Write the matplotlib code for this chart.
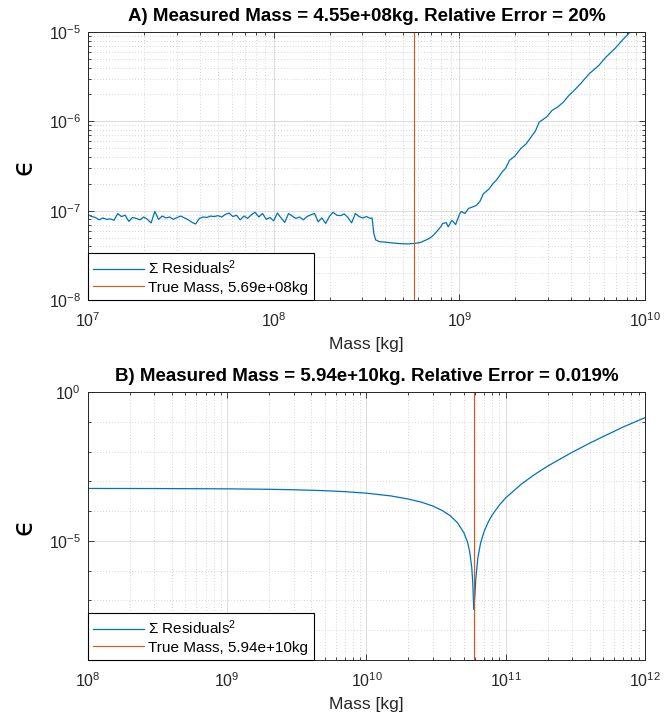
import numpy as np
import matplotlib.pyplot as plt
from matplotlib.ticker import FixedLocator, NullFormatter, LogFormatterSciNotation

# -----------------------------
# Panel A: noisy fit, 1e7 .. 1e10 kg
# -----------------------------
log_mass_a = [
    7.00, 7.02, 7.04, 7.06, 7.08, 7.10, 7.12, 7.14, 7.16, 7.18,
    7.20, 7.22, 7.24, 7.26, 7.28, 7.30, 7.32, 7.34, 7.36, 7.38,
    7.40, 7.42, 7.44, 7.46, 7.48, 7.50, 7.52, 7.54, 7.56, 7.58,
    7.60, 7.62, 7.64, 7.66, 7.68, 7.70, 7.72, 7.74, 7.76, 7.78,
    7.80, 7.82, 7.84, 7.86, 7.88, 7.90, 7.92, 7.94, 7.96, 7.98,
    8.00, 8.02, 8.04, 8.06, 8.08, 8.10, 8.12, 8.14, 8.16, 8.18,
    8.20, 8.22, 8.24, 8.26, 8.28, 8.30, 8.32, 8.34, 8.36, 8.38,
    8.40, 8.42, 8.44, 8.46, 8.48, 8.50, 8.52, 8.53, 8.54, 8.55,
    8.57, 8.60, 8.64, 8.68, 8.72, 8.76, 8.79, 8.82, 8.84, 8.86,
    8.88, 8.90, 8.91, 8.93, 8.94, 8.96, 8.98, 9.00, 9.01, 9.03,
    9.05, 9.07, 9.09, 9.11, 9.13, 9.16, 9.18, 9.20, 9.23, 9.25,
    9.27, 9.30, 9.33, 9.36, 9.38, 9.41, 9.43, 9.47, 9.50, 9.53,
    9.56, 9.59, 9.61, 9.65, 9.70, 9.75, 9.79, 9.84, 9.88, 9.92,
    10.00,
]
# residual sum in units of 1e-8
eps_a_1e8 = [
    9.0, 8.6, 8.4, 7.9, 8.3, 8.0, 8.1, 7.8, 9.3, 8.6,
    8.9, 7.6, 8.4, 8.2, 7.9, 8.5, 8.0, 7.3, 9.8, 8.0,
    8.7, 8.3, 8.5, 8.0, 8.4, 8.7, 8.3, 7.9, 7.4, 7.1,
    8.2, 8.5, 8.4, 8.7, 8.6, 8.8, 8.5, 9.1, 9.4, 8.6,
    8.9, 7.9, 8.7, 8.2, 9.0, 9.6, 8.5, 9.3, 8.0, 8.4,
    7.7, 9.4, 8.3, 7.4, 9.3, 8.7, 8.2, 8.5, 7.9, 8.6,
    9.0, 9.3, 7.5, 8.3, 7.2, 8.6, 9.6, 8.9, 8.8, 9.2,
    8.4, 7.3, 9.3, 8.6, 8.3, 8.6, 8.2, 8.3, 5.5, 4.7,
    4.5, 4.45, 4.35, 4.28, 4.25, 4.3, 4.4, 4.7, 4.9, 5.3,
    5.9, 6.6, 7.2, 7.35, 6.6, 7.8, 7.0, 9.0, 9.8, 9.3,
    10.6, 11.0, 11.4, 12.6, 15.5, 17.5, 20.0, 22.0, 27.0, 30.0,
    36.6, 41.0, 49.4, 56.0, 64.0, 78.0, 98.0, 112.0, 133.0, 145.0,
    164.0, 195.0, 213.0, 260.0, 342.0, 420.0, 525.0, 660.0, 820.0, 1000.0,
    1460.0,
]
true_mass_a = 5.69e8
title_a = "A) Measured Mass = 4.55e+08kg. Relative Error = 20%"

# -----------------------------
# Panel B: clean fit, 1e8 .. 1e12 kg
# -----------------------------
mass_b = [
    1e8, 3e8, 1e9, 2e9, 3e9, 5e9, 7e9, 1e10, 1.5e10, 2e10,
    2.5e10, 3e10, 3.5e10, 4e10, 4.5e10, 5e10, 5.3e10, 5.5e10, 5.7e10, 5.8e10,
    5.89e10, 6.0e10, 6.1e10, 6.3e10, 6.6e10, 7e10, 7.5e10, 8e10, 9e10, 1e11,
    1.3e11, 1.6e11, 2e11, 3e11, 4e11, 5e11, 7e11, 1e12,
]
eps_b = [
    5.78e-4, 5.74e-4, 5.61e-4, 5.42e-4, 5.23e-4, 4.87e-4, 4.51e-4, 4.01e-4, 3.24e-4, 2.55e-4,
    1.98e-4, 1.48e-4, 1.05e-4, 7.0e-5, 4.1e-5, 1.9e-5, 9.5e-6, 4.6e-6, 1.3e-6, 4.0e-7,
    5.0e-8, 1.4e-7, 5.5e-7, 2.6e-6, 8.5e-6, 2.1e-5, 4.4e-5, 7.5e-5, 1.6e-4, 2.8e-4,
    8.2e-4, 1.66e-3, 3.25e-3, 9.5e-3, 1.91e-2, 3.19e-2, 6.75e-2, 1.38e-1,
]
true_mass_b = 5.94e10
title_b = "B) Measured Mass = 5.94e+10kg. Relative Error = 0.019%"

BLUE = '#0072BD'
ORANGE = '#D95319'
AX_COLOR = '#262626'

plt.rcParams['font.family'] = ['Liberation Sans', 'DejaVu Sans']
plt.rcParams['mathtext.fontset'] = 'custom'
plt.rcParams['mathtext.rm'] = 'Liberation Sans'
plt.rcParams['mathtext.it'] = 'Liberation Sans:italic'
plt.rcParams['mathtext.bf'] = 'Liberation Sans:bold'


def decades(lo, hi):
    return [10.0 ** k for k in range(lo, hi + 1)]


def sub_decades(lo, hi):
    return [m * 10.0 ** k for k in range(lo, hi) for m in range(2, 10)]


def style_axes(ax, xdec, ymajor, yminor, ylim):
    ax.set_xscale('log')
    ax.set_yscale('log')
    ax.set_xlim(10.0 ** xdec[0], 10.0 ** xdec[1])
    ax.set_ylim(*ylim)

    ax.xaxis.set_major_locator(FixedLocator(decades(*xdec)))
    ax.xaxis.set_minor_locator(FixedLocator(sub_decades(*xdec)))
    ax.yaxis.set_major_locator(FixedLocator(ymajor))
    ax.yaxis.set_minor_locator(FixedLocator(yminor))
    ax.xaxis.set_major_formatter(LogFormatterSciNotation())
    ax.yaxis.set_major_formatter(LogFormatterSciNotation())
    ax.xaxis.set_minor_formatter(NullFormatter())
    ax.yaxis.set_minor_formatter(NullFormatter())

    ax.tick_params(which='both', direction='in', top=True, right=True,
                   color=AX_COLOR, width=0.6, labelsize=11.5, labelcolor=AX_COLOR)
    ax.tick_params(which='major', length=4.5)
    ax.tick_params(which='minor', length=2.5)
    ax.tick_params(axis='x', pad=8)
    ax.tick_params(axis='y', pad=5)

    ax.grid(True, which='major', color='#dcdcdc', linewidth=0.7, linestyle='-')
    ax.grid(True, which='minor', color='#c8c8c8', linewidth=0.6, linestyle=(0, (1, 2.5)))
    ax.set_axisbelow(True)

    for sp in ax.spines.values():
        sp.set_color(AX_COLOR)
        sp.set_linewidth(0.7)

    ax.set_xlabel('Mass [kg]', fontsize=12.5, color=AX_COLOR, labelpad=5)
    # lunate epsilon, taken from DejaVu which carries U+03F5
    ax.set_ylabel('\u03f5', fontsize=20, color='black', labelpad=8,
                  family='DejaVu Sans')


def draw_panel(ax, mass, eps, true_mass, title):
    ax.plot(mass, eps, color=BLUE, linewidth=0.9,
            label=r'$\Sigma$ Residuals$^2$')
    ax.axvline(true_mass, color=ORANGE, linewidth=0.8,
               label=f'True Mass, {true_mass:.2e}kg')
    ax.set_title(title, fontsize=13.5, fontweight='bold', pad=8)
    leg = ax.legend(loc='lower left', borderaxespad=0, fancybox=False,
                    framealpha=1, edgecolor='black', fontsize=11,
                    handlelength=3.3, handletextpad=0.3,
                    borderpad=0.35, labelspacing=0.25)
    leg.get_frame().set_linewidth(0.8)


fig = plt.figure(figsize=(6.69, 7.2), dpi=100)

ax_a = fig.add_axes([0.1315, 0.5833, 0.8326, 0.3722])
mass_a = 10.0 ** np.array(log_mass_a)
eps_a = np.array(eps_a_1e8) * 1e-8
draw_panel(ax_a, mass_a, eps_a, true_mass_a, title_a)
style_axes(ax_a, (7, 10), decades(-8, -5), sub_decades(-8, -5), (1e-8, 1e-5))

ax_b = fig.add_axes([0.1315, 0.0833, 0.8326, 0.3722])
draw_panel(ax_b, mass_b, eps_b, true_mass_b, title_b)
style_axes(ax_b, (8, 12), [1e-5, 1e0],
           [10.0 ** k for k in (-8, -7, -6, -4, -3, -2, -1)], (1e-9, 1e0))

fig.savefig('out.png', dpi=100)
